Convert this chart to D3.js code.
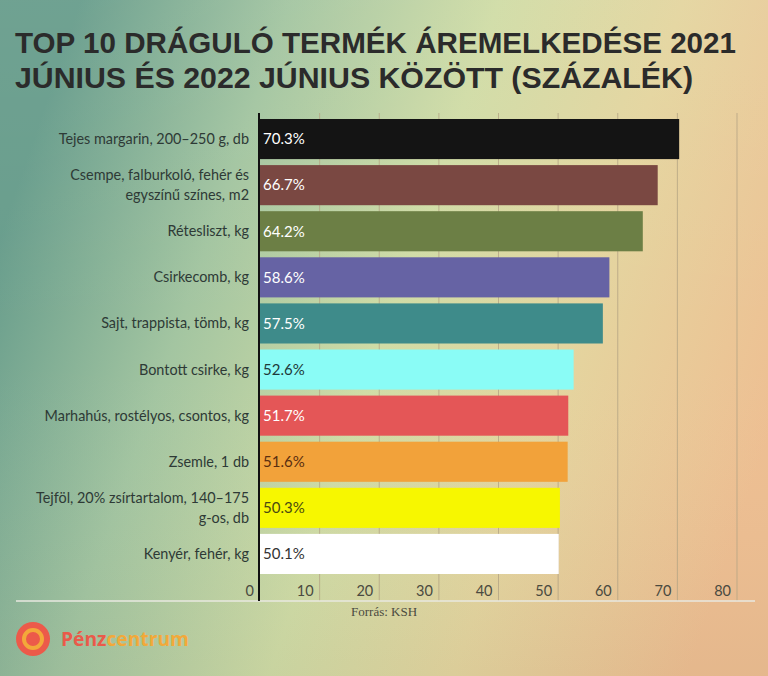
<!DOCTYPE html>
<html><head><meta charset="utf-8">
<script src="https://cdn.jsdelivr.net/npm/d3@7"></script>
<style>html,body{margin:0;padding:0;background:#fff;}svg{display:block;}</style>
</head><body>
<svg id="chart" width="768" height="676"></svg>
<script>
const titleLines = ["TOP 10 DRÁGULÓ TERMÉK ÁREMELKEDÉSE 2021", "JÚNIUS ÉS 2022 JÚNIUS KÖZÖTT (SZÁZALÉK)"];
const categories = [
  "Tejes margarin, 200–250 g, db",
  "Csempe, falburkoló, fehér és egyszínű színes, m2",
  "Rétesliszt, kg",
  "Csirkecomb, kg",
  "Sajt, trappista, tömb, kg",
  "Bontott csirke, kg",
  "Marhahús, rostélyos, csontos, kg",
  "Zsemle, 1 db",
  "Tejföl, 20% zsírtartalom, 140–175 g-os, db",
  "Kenyér, fehér, kg"
];
const values = [70.3, 66.7, 64.2, 58.6, 57.5, 52.6, 51.7, 51.6, 50.3, 50.1];
const barColors = ["#141414", "#7a4842", "#6c7f45", "#6663a4", "#3e8b8a", "#8afcf6", "#e45657", "#f2a23a", "#f7f700", "#ffffff"];
const labelColors = ["#ffffff", "#ffffff", "#ffffff", "#ffffff", "#ffffff", "#1e3a3a", "#ffffff", "#5a2e10", "#4a4a10", "#333333"];
const ticks = [0, 10, 20, 30, 40, 50, 60, 70, 80];
const source = "Forrás: KSH";

const svg = d3.select("#chart");
const W = 768, H = 676;

// background
const defs = svg.append("defs");
const g1 = defs.append("linearGradient").attr("id", "bg").attr("x1", "0").attr("y1", "0.35").attr("x2", "1").attr("y2", "0.65");
[[0, "#689d8c"], [0.25, "#a3c5a1"], [0.5, "#d0dca6"], [0.72, "#e4d59f"], [1, "#eebf92"]].forEach(s =>
  g1.append("stop").attr("offset", s[0]).attr("stop-color", s[1]));
svg.append("rect").attr("width", W).attr("height", H).attr("fill", "url(#bg)");
const g2 = defs.append("linearGradient").attr("id", "bg2").attr("x1", "0").attr("y1", "0").attr("x2", "0").attr("y2", "1");
[[0, "#ffffff", 0.05], [0.5, "#ffffff", 0], [1, "#000000", 0.04]].forEach(s =>
  g2.append("stop").attr("offset", s[0]).attr("stop-color", s[1]).attr("stop-opacity", s[2]));
svg.append("rect").attr("width", W).attr("height", H).attr("fill", "url(#bg2)");

// title
svg.append("g").selectAll("text").data(titleLines).join("text")
  .attr("x", 15).attr("y", (d, i) => 53 + i * 35)
  .attr("textLength", (d, i) => i === 0 ? 721 : 678)
  .attr("lengthAdjust", "spacingAndGlyphs")
  .attr("font-family", "'Liberation Sans', Arial, sans-serif").attr("font-weight", 700)
  .attr("font-size", 30).attr("fill", "#2b2b2b").text(d => d);

// scales
const x = d3.scaleLinear().domain([0, 80]).range([260, 737]);
const y = d3.scaleBand().domain(categories).range([116, 577]).paddingInner(0.13).paddingOuter(0.065);

// gridlines
svg.append("g").selectAll("line").data(ticks.filter(t => t > 0)).join("line")
  .attr("x1", d => x(d)).attr("x2", d => x(d)).attr("y1", 113).attr("y2", 601)
  .attr("stroke", "#b5a585").attr("stroke-width", 1).attr("opacity", 0.8);

// bottom line
svg.append("line").attr("x1", 16).attr("x2", 755).attr("y1", 601).attr("y2", 601)
  .attr("stroke", "#e8e8e0").attr("stroke-width", 1.5);

// bars
svg.append("g").selectAll("rect").data(categories).join("rect")
  .attr("x", x(0)).attr("y", d => y(d))
  .attr("width", (d, i) => x(values[i]) - x(0)).attr("height", y.bandwidth())
  .attr("fill", (d, i) => barColors[i]);

// value labels
svg.append("g").selectAll("text").data(categories).join("text")
  .attr("x", x(0) + 3).attr("y", d => y(d) + y.bandwidth() / 2).attr("dy", "0.35em")
  .attr("font-family", "Lato, sans-serif").attr("font-size", 15)
  .attr("fill", (d, i) => labelColors[i]).text((d, i) => values[i].toFixed(1) + "%");

// category labels with wrapping
const labG = svg.append("g").attr("font-family", "Lato, sans-serif").attr("font-size", 14.4).attr("fill", "#2e3a36");
categories.forEach(c => {
  const t = labG.append("text").attr("x", 249).attr("text-anchor", "end");
  const words = c.split(" ");
  let lines = [], cur = [];
  const probe = labG.append("text").attr("visibility", "hidden");
  words.forEach(w => {
    const test = cur.concat([w]).join(" ");
    probe.text(test);
    if (probe.node().getComputedTextLength() > 216 && cur.length) { lines.push(cur.join(" ")); cur = [w]; }
    else cur.push(w);
  });
  lines.push(cur.join(" "));
  probe.remove();
  const cy = y(c) + y.bandwidth() / 2;
  const lh = 20;
  lines.forEach((l, i) => {
    t.append("tspan").attr("x", 249).attr("y", cy + (i - (lines.length - 1) / 2) * lh).attr("dy", "0.35em").text(l);
  });
});

// axis line
svg.append("line").attr("x1", 259).attr("x2", 259).attr("y1", 113).attr("y2", 601)
  .attr("stroke", "#111").attr("stroke-width", 2);

// tick labels
svg.append("g").selectAll("text").data(ticks).join("text")
  .attr("x", d => x(d) - 6).attr("y", 596).attr("text-anchor", "end")
  .attr("font-family", "Lato, sans-serif").attr("font-size", 14.5).attr("fill", "#4a4a40")
  .text(d => d);

// source
svg.append("text").attr("x", 351).attr("y", 616)
  .attr("font-family", "'Liberation Serif', 'Times New Roman', serif").attr("font-size", 13)
  .attr("fill", "#4a4a40").text(source);

// logo
svg.append("circle").attr("cx", 33).attr("cy", 639).attr("r", 17).attr("fill", "#ec5a4a");
svg.append("circle").attr("cx", 33).attr("cy", 639).attr("r", 9).attr("fill", "none").attr("stroke", "#f3a83a").attr("stroke-width", 4);
svg.append("circle").attr("cx", 33).attr("cy", 639).attr("r", 4).attr("fill", "#ec5a4a");
const logo = svg.append("text").attr("x", 61).attr("y", 646)
  .attr("font-family", "'Open Sans', sans-serif").attr("font-weight", 700).attr("font-size", 19)
  .attr("textLength", 128).attr("lengthAdjust", "spacingAndGlyphs");
logo.append("tspan").attr("fill", "#ea5a4a").text("Pénz");
logo.append("tspan").attr("fill", "#f2a93a").text("centrum");
</script>
</body></html>
